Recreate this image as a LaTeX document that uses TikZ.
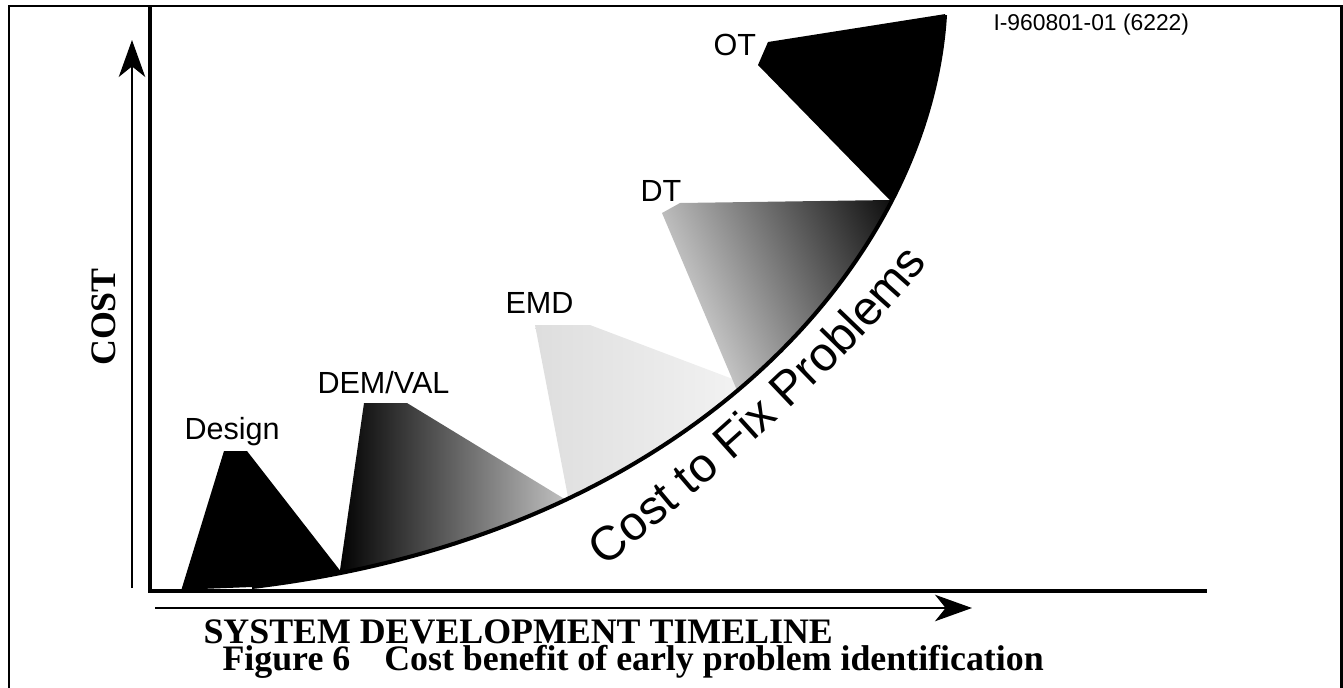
\documentclass[tikz,border=0pt]{standalone}
\usepackage{fontspec}
\setmainfont{Liberation Serif}
\setsansfont{Liberation Sans}
\usetikzlibrary{arrows.meta,decorations.text}

\tikzset{
  phase/.style={font=\sffamily\fontsize{17.4}{20}\selectfont, inner sep=0pt, anchor=base west},
  axislabel/.style={font=\bfseries\fontsize{20.4}{22}\selectfont, inner sep=0pt},
  axisarrow/.style={line width=1.6pt, -{Stealth[length=21pt,width=15pt,inset=6pt]}},
}

\begin{document}
\begin{tikzpicture}[x=0.02cm, y=-0.02cm, semithick]
  \useasboundingbox (0,0) rectangle (1343,687);

  % frame and axes
  \draw[line width=1.7pt] (9,700) -- (9,6) -- (1341,6) -- (1341,700);
  \draw[line width=2.8pt] (150,6) -- (150,591) -- (1207,591);

  \coordinate (c0) at (252,587);
  \coordinate (c1) at (945,15);

  % phases, cut off at the cost curve
  \begin{scope}
  \clip (150,6) -- (150,591) -- (c0) .. controls (690,535) and (930,260) .. (c1) -- (945,6) -- cycle;
  \fill (181,591) -- (224,451) -- (247,451) -- (356,591) -- cycle;
  \shade[left color=black, right color=white] (337,591) -- (364,403) -- (407,403) -- (640,545) -- (640,591) -- cycle;
  \shade[left color=black!13, right color=black!2] (535,325) -- (590,325) -- (820,412) -- (820,591) -- (586,591) -- cycle;
  \shade[left color=black!10, right color=black, shading angle=115] (662,213) -- (680,203) -- (960,199) -- (960,440) -- (758,440) -- cycle;
  \fill (758,65) -- (768,42) -- (990,7) -- (990,240) -- (920,231) -- cycle;
  \end{scope}
  \draw[line width=2.3pt] (c0) .. controls (690,535) and (930,260) .. (c1);

  % text set along a line below the curve
  \coordinate (f0) at (604,567);
  \coordinate (f1) at (946,240);
  \path[decorate, decoration={text along path, text align=left,
    text={|\sffamily\fontsize{27.3}{29}\selectfont|Cost to Fix Problems}}]
    (f0) .. controls (697,496) and (864,350) .. (f1);

  \draw[axisarrow] (132,588) -- (132,40);
  \draw[axisarrow] (155,608) -- (972,608);

  \node[phase] (design) at (184,439) {Design};
  \node[phase] (demval) at (317,393) {DEM/VAL};
  \node[phase] (emd) at (505,313) {EMD};
  \node[phase] (dt) at (640,201) {DT};
  \node[phase] (ot) at (713,55) {OT};
  \node[phase, font=\sffamily\fontsize{13}{15}\selectfont] (tag) at (993,30) {I-960801-01 (6222)};

  \node[axislabel, rotate=90] (cost) at (104,317) {COST};
  \node[axislabel, anchor=base west] (timeline) at (203,643) {SYSTEM DEVELOPMENT TIMELINE};
  \node[axislabel, anchor=base west] (caption) at (222,670) {Figure 6\hspace{0.95em}Cost benefit of early problem identification};
\end{tikzpicture}
\end{document}
